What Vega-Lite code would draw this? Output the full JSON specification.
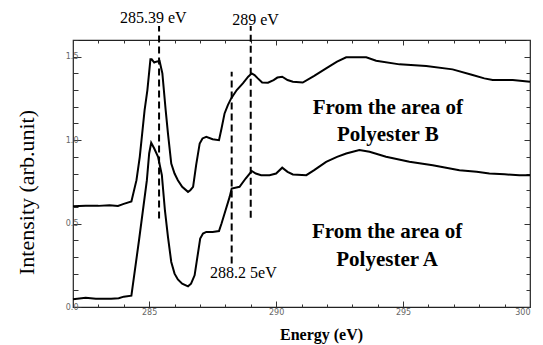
{
  "$schema": "https://vega.github.io/schema/vega-lite/v6.json",
  "width": 457,
  "height": 267,
  "autosize": {"type": "none"},
  "padding": {"left": 73, "top": 40, "right": 13, "bottom": 38},
  "background": "white",
  "config": {
    "view": {"stroke": "#222", "strokeWidth": 1.2},
    "axis": {"grid": false, "domain": false, "tickColor": "#333", "tickWidth": 1}
  },
  "datasets": {
    "curves": [
      {"series": "A", "energy": 282.0, "intensity": 0.046},
      {"series": "A", "energy": 282.5, "intensity": 0.056},
      {"series": "A", "energy": 282.9, "intensity": 0.05},
      {"series": "A", "energy": 283.5, "intensity": 0.05},
      {"series": "A", "energy": 283.8, "intensity": 0.052},
      {"series": "A", "energy": 284.0, "intensity": 0.062},
      {"series": "A", "energy": 284.3, "intensity": 0.068},
      {"series": "A", "energy": 284.6, "intensity": 0.4},
      {"series": "A", "energy": 284.91, "intensity": 0.76},
      {"series": "A", "energy": 285.0, "intensity": 0.92},
      {"series": "A", "energy": 285.08, "intensity": 0.984},
      {"series": "A", "energy": 285.2, "intensity": 0.95},
      {"series": "A", "energy": 285.35, "intensity": 0.9},
      {"series": "A", "energy": 285.5, "intensity": 0.79},
      {"series": "A", "energy": 285.62, "intensity": 0.58},
      {"series": "A", "energy": 285.74, "intensity": 0.42},
      {"series": "A", "energy": 285.87, "intensity": 0.27},
      {"series": "A", "energy": 286.0, "intensity": 0.2},
      {"series": "A", "energy": 286.13, "intensity": 0.165},
      {"series": "A", "energy": 286.3, "intensity": 0.14},
      {"series": "A", "energy": 286.53, "intensity": 0.124},
      {"series": "A", "energy": 286.65, "intensity": 0.14},
      {"series": "A", "energy": 286.79, "intensity": 0.19},
      {"series": "A", "energy": 286.9, "intensity": 0.3},
      {"series": "A", "energy": 287.01, "intensity": 0.41},
      {"series": "A", "energy": 287.12, "intensity": 0.44},
      {"series": "A", "energy": 287.25, "intensity": 0.45},
      {"series": "A", "energy": 287.5, "intensity": 0.45},
      {"series": "A", "energy": 287.75, "intensity": 0.455},
      {"series": "A", "energy": 287.85, "intensity": 0.5},
      {"series": "A", "energy": 287.97, "intensity": 0.56},
      {"series": "A", "energy": 288.17, "intensity": 0.66},
      {"series": "A", "energy": 288.25, "intensity": 0.71},
      {"series": "A", "energy": 288.56, "intensity": 0.72},
      {"series": "A", "energy": 288.8, "intensity": 0.77},
      {"series": "A", "energy": 289.04, "intensity": 0.815},
      {"series": "A", "energy": 289.2, "intensity": 0.8},
      {"series": "A", "energy": 289.41, "intensity": 0.79},
      {"series": "A", "energy": 289.74, "intensity": 0.79},
      {"series": "A", "energy": 290.0, "intensity": 0.8},
      {"series": "A", "energy": 290.24, "intensity": 0.835},
      {"series": "A", "energy": 290.45, "intensity": 0.81},
      {"series": "A", "energy": 290.66, "intensity": 0.794},
      {"series": "A", "energy": 291.19, "intensity": 0.79},
      {"series": "A", "energy": 291.5, "intensity": 0.82},
      {"series": "A", "energy": 291.97, "intensity": 0.87},
      {"series": "A", "energy": 292.4, "intensity": 0.9},
      {"series": "A", "energy": 292.76, "intensity": 0.92},
      {"series": "A", "energy": 293.28, "intensity": 0.94},
      {"series": "A", "energy": 293.68, "intensity": 0.93},
      {"series": "A", "energy": 294.33, "intensity": 0.9},
      {"series": "A", "energy": 295.25, "intensity": 0.87},
      {"series": "A", "energy": 296.17, "intensity": 0.85},
      {"series": "A", "energy": 297.22, "intensity": 0.82},
      {"series": "A", "energy": 297.9, "intensity": 0.81},
      {"series": "A", "energy": 298.4, "intensity": 0.8},
      {"series": "A", "energy": 299.0, "intensity": 0.795},
      {"series": "A", "energy": 299.58, "intensity": 0.79},
      {"series": "A", "energy": 300.0, "intensity": 0.79},
      {"series": "B", "energy": 282.0, "intensity": 0.604},
      {"series": "B", "energy": 282.5, "intensity": 0.606},
      {"series": "B", "energy": 283.0, "intensity": 0.606},
      {"series": "B", "energy": 283.44, "intensity": 0.61},
      {"series": "B", "energy": 283.77, "intensity": 0.606},
      {"series": "B", "energy": 284.0, "intensity": 0.618},
      {"series": "B", "energy": 284.3, "intensity": 0.632},
      {"series": "B", "energy": 284.5, "intensity": 0.76},
      {"series": "B", "energy": 284.63, "intensity": 0.9},
      {"series": "B", "energy": 284.82, "intensity": 1.18},
      {"series": "B", "energy": 284.93, "intensity": 1.3},
      {"series": "B", "energy": 285.05, "intensity": 1.484},
      {"series": "B", "energy": 285.1, "intensity": 1.484},
      {"series": "B", "energy": 285.2, "intensity": 1.465},
      {"series": "B", "energy": 285.28, "intensity": 1.47},
      {"series": "B", "energy": 285.41, "intensity": 1.474},
      {"series": "B", "energy": 285.52, "intensity": 1.4},
      {"series": "B", "energy": 285.65, "intensity": 1.18},
      {"series": "B", "energy": 285.74, "intensity": 1.04},
      {"series": "B", "energy": 285.87, "intensity": 0.86},
      {"series": "B", "energy": 286.0, "intensity": 0.8},
      {"series": "B", "energy": 286.13, "intensity": 0.76},
      {"series": "B", "energy": 286.3, "intensity": 0.72},
      {"series": "B", "energy": 286.53, "intensity": 0.69},
      {"series": "B", "energy": 286.62, "intensity": 0.7},
      {"series": "B", "energy": 286.73, "intensity": 0.72},
      {"series": "B", "energy": 286.85, "intensity": 0.85},
      {"series": "B", "energy": 286.99, "intensity": 0.98},
      {"series": "B", "energy": 287.1, "intensity": 1.01},
      {"series": "B", "energy": 287.25, "intensity": 1.02},
      {"series": "B", "energy": 287.5, "intensity": 1.005},
      {"series": "B", "energy": 287.75, "intensity": 1.0},
      {"series": "B", "energy": 287.85, "intensity": 1.07},
      {"series": "B", "energy": 287.97, "intensity": 1.16},
      {"series": "B", "energy": 288.1, "intensity": 1.21},
      {"series": "B", "energy": 288.23, "intensity": 1.25},
      {"series": "B", "energy": 288.45, "intensity": 1.3},
      {"series": "B", "energy": 288.69, "intensity": 1.34},
      {"series": "B", "energy": 288.9, "intensity": 1.38},
      {"series": "B", "energy": 289.04, "intensity": 1.4},
      {"series": "B", "energy": 289.15, "intensity": 1.39},
      {"series": "B", "energy": 289.28, "intensity": 1.37},
      {"series": "B", "energy": 289.45, "intensity": 1.345},
      {"series": "B", "energy": 289.68, "intensity": 1.344},
      {"series": "B", "energy": 289.9, "intensity": 1.36},
      {"series": "B", "energy": 290.05, "intensity": 1.375},
      {"series": "B", "energy": 290.24, "intensity": 1.38},
      {"series": "B", "energy": 290.45, "intensity": 1.36},
      {"series": "B", "energy": 290.66, "intensity": 1.35},
      {"series": "B", "energy": 291.05, "intensity": 1.345},
      {"series": "B", "energy": 291.5, "intensity": 1.385},
      {"series": "B", "energy": 291.97, "intensity": 1.43},
      {"series": "B", "energy": 292.4, "intensity": 1.47},
      {"series": "B", "energy": 292.76, "intensity": 1.496},
      {"series": "B", "energy": 293.55, "intensity": 1.496},
      {"series": "B", "energy": 293.94, "intensity": 1.476},
      {"series": "B", "energy": 294.86, "intensity": 1.454},
      {"series": "B", "energy": 295.91, "intensity": 1.444},
      {"series": "B", "energy": 296.95, "intensity": 1.424},
      {"series": "B", "energy": 297.74, "intensity": 1.39},
      {"series": "B", "energy": 298.2, "intensity": 1.37},
      {"series": "B", "energy": 298.53, "intensity": 1.36},
      {"series": "B", "energy": 299.32, "intensity": 1.36},
      {"series": "B", "energy": 300.0, "intensity": 1.35}
    ],
    "markers": [
      {"energy": 285.39, "y_start": 0.53, "y_end": 1.684},
      {"energy": 289.0, "y_start": 0.535, "y_end": 1.684},
      {"energy": 288.25, "y_start": 0.26, "y_end": 1.41}
    ],
    "labels": [
      {"text": "285.39 eV", "energy": 285.16, "intensity": 1.70},
      {"text": "289 eV", "energy": 289.19, "intensity": 1.69},
      {"text": "288.2 5eV", "energy": 288.71, "intensity": 0.176}
    ],
    "notes": [
      {"text": "From the area of", "energy": 294.4, "intensity": 1.156},
      {"text": "Polyester B", "energy": 294.4, "intensity": 0.996},
      {"text": "From the area of", "energy": 294.37, "intensity": 0.412},
      {"text": "Polyester A", "energy": 294.37, "intensity": 0.244}
    ]
  },
  "layer": [
    {
      "data": {"name": "curves"},
      "mark": {"type": "line", "color": "black", "strokeWidth": 2},
      "encoding": {
        "x": {
          "field": "energy", "type": "quantitative",
          "scale": {"domain": [282, 300], "nice": false, "zero": false},
          "axis": {
            "orient": "bottom",
            "values": [282,283,284,285,286,287,288,289,290,291,292,293,294,295,296,297,298,299,300],
            "labelExpr": "datum.value % 5 === 0 ? datum.label : ''",
            "format": "d",
            "tickSize": {"condition": {"test": "datum.value % 5 === 0", "value": -6}, "value": -3},
            "labelFont": "DejaVu Sans", "labelFontSize": 8, "labelColor": "#666",
            "labelPadding": 7,
            "title": "Energy (eV)",
            "titleFont": "Liberation Serif", "titleFontSize": 16, "titleFontWeight": "bold",
            "titleColor": "black",
            "titleX": 248, "titleY": 32, "titleBaseline": "alphabetic", "titleAlign": "center", "titleAnchor": null
          }
        },
        "y": {
          "field": "intensity", "type": "quantitative",
          "scale": {"domain": [0, 1.6], "nice": false},
          "axis": {
            "orient": "left",
            "values": [0,0.1,0.2,0.3,0.4,0.5,0.6,0.7,0.8,0.9,1.0,1.1,1.2,1.3,1.4,1.5,1.6],
            "labelExpr": "abs(datum.value*2 - round(datum.value*2)) < 0.001 ? format(datum.value, '.1f') : ''",
            "tickSize": {"condition": {"test": "abs(datum.value*2 - round(datum.value*2)) < 0.001", "value": -8}, "value": -5},
            "labelFont": "DejaVu Sans", "labelFontSize": 8, "labelColor": "#666",
            "labelPadding": 3,
            "title": "Intensity (arb.unit)",
            "titleFont": "Liberation Serif", "titleFontSize": 22, "titleFontWeight": "normal",
            "titleColor": "black",
            "titleX": -40, "titleY": 152, "titleBaseline": "alphabetic", "titleAlign": "center", "titleAngle": 270
          }
        },
        "detail": {"field": "series"}
      }
    },
    {
      "data": {"name": "markers"},
      "mark": {"type": "rule", "color": "black", "strokeWidth": 2, "strokeDash": [7, 4], "clip": false},
      "encoding": {
        "x": {
          "field": "energy", "type": "quantitative",
          "scale": {"domain": [282, 300], "nice": false, "zero": false},
          "axis": {
            "orient": "top",
            "values": [282,283,284,285,286,287,288,289,290,291,292,293,294,295,296,297,298,299,300],
            "labels": false, "title": null,
            "tickSize": {"condition": {"test": "datum.value % 5 === 0", "value": -5}, "value": -3}
          }
        },
        "y": {
          "field": "y_start", "type": "quantitative",
          "scale": {"domain": [0, 1.6], "nice": false},
          "axis": {
            "orient": "right",
            "values": [0,0.1,0.2,0.3,0.4,0.5,0.6,0.7,0.8,0.9,1.0,1.1,1.2,1.3,1.4,1.5,1.6],
            "labels": false, "title": null,
            "tickSize": {"condition": {"test": "abs(datum.value*2 - round(datum.value*2)) < 0.001", "value": -6}, "value": -4}
          }
        },
        "y2": {"field": "y_end"}
      }
    },
    {
      "data": {"name": "labels"},
      "mark": {"type": "text", "font": "Liberation Serif", "fontSize": 16, "baseline": "alphabetic", "align": "center", "color": "black", "clip": false},
      "encoding": {
        "x": {"field": "energy", "type": "quantitative", "scale": {"domain": [282, 300], "nice": false, "zero": false}, "axis": null},
        "y": {"field": "intensity", "type": "quantitative", "scale": {"domain": [0, 1.6], "nice": false}, "axis": null},
        "text": {"field": "text"}
      }
    },
    {
      "data": {"name": "notes"},
      "mark": {"type": "text", "font": "Liberation Serif", "fontSize": 21, "fontWeight": "bold", "baseline": "alphabetic", "align": "center", "color": "black", "clip": false},
      "encoding": {
        "x": {"field": "energy", "type": "quantitative", "scale": {"domain": [282, 300], "nice": false, "zero": false}, "axis": null},
        "y": {"field": "intensity", "type": "quantitative", "scale": {"domain": [0, 1.6], "nice": false}, "axis": null},
        "text": {"field": "text"}
      }
    }
  ],
  "resolve": {"axis": {"x": "independent", "y": "independent"}}
}
